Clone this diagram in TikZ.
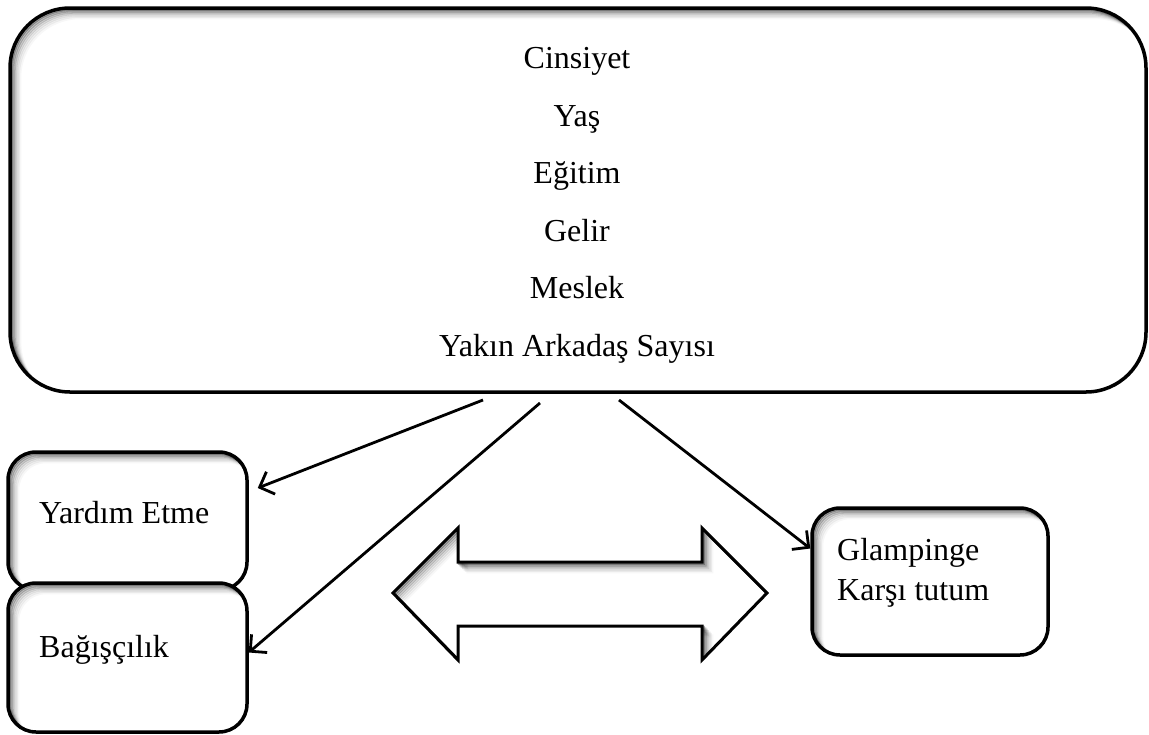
\documentclass[tikz,border=0pt]{standalone}
\usepackage{fontspec}
\setmainfont{Liberation Serif}
\usetikzlibrary{arrows.meta}
\tikzset{
  ishadow/.style={path picture={
    \foreach \i/\o in {1/0.32,2/0.24,3/0.18,4/0.12,5/0.08,6/0.05,7/0.03}{
      \draw[line width=3pt, black, opacity=\o, rounded corners=#1]
        ([shift={({\i*1.4pt},{-\i*1.4pt})}]path picture bounding box.south west) rectangle
        ([shift={({\i*1.4pt},{-\i*1.4pt})}]path picture bounding box.north east);
    }}},
  box/.style={draw, line width=3.5pt, fill=white, rounded corners=#1, inner sep=0pt, ishadow=#1},
  lbl/.style={inner sep=0pt, font=\fontsize{32}{38}\selectfont},
  arr/.style={line width=2.8pt, -{Straight Barb[length=12pt,width=24pt]}},
}
\newcommand{\dblarrow}{(393,593) -- (458,528) -- (458,562) -- (702,562) -- (702,528) -- (767,593) -- (702,660) -- (702,626) -- (458,626) -- (458,660) -- cycle}
\begin{document}
\begin{tikzpicture}[x=1pt,y=-1pt]
\useasboundingbox (0,0) rectangle (1149,734);
\fill[white] (0,0) rectangle (1149,734);

% main box
\node[box=60pt, minimum width=1136pt, minimum height=384pt] (top) at (578,200) {};
\node[lbl, anchor=base] (t1) at (577,68) {Cinsiyet};
\node[lbl, anchor=base] (t2) at (577,126) {Yaş};
\node[lbl, anchor=base] (t3) at (577,183) {Eğitim};
\node[lbl, anchor=base] (t4) at (577,241) {Gelir};
\node[lbl, anchor=base] (t5) at (577,298) {Meslek};
\node[lbl, anchor=base] (t6) at (577,356) {Yakın Arkadaş Sayısı};

% small boxes
\node[box=28pt, minimum width=239pt, minimum height=138pt] (yard) at (127.5,521) {};
\node[box=28pt, minimum width=239pt, minimum height=149pt] (bag) at (127.5,657.5) {};
\node[box=28pt, minimum width=236pt, minimum height=147pt] (glamp) at (930,581.5) {};
\node[lbl, anchor=base west] (yardt) at (39,523) {Yardım Etme};
\node[lbl, anchor=base west] (bagt) at (39,657) {Bağışçılık};
\node[lbl, anchor=base west] (glt1) at (837,560) {Glampinge};
\node[lbl, anchor=base west] (glt2) at (837,600) {Karşı tutum};

% connectors
\coordinate (s1) at (483,400);
\coordinate (s2) at (540,403);
\coordinate (s3) at (619,400);
\draw[arr] (s1) -- ([shift={(9pt,33pt)}]yard.east);
\draw[arr] (s2) -- ([yshift=5pt]bag.east);
\draw[arr] (s3) -- ([yshift=33pt]glamp.west);

% double arrow
\fill[white] \dblarrow;
\begin{scope}
  \clip \dblarrow;
  \foreach \i/\o in {1/0.32,2/0.24,3/0.18,4/0.12,5/0.08,6/0.05,7/0.03}{
    \begin{scope}[shift={({\i*1.4pt},{-\i*1.4pt})}]
      \draw[line width=3pt, opacity=\o] \dblarrow;
    \end{scope}
  }
\end{scope}
\draw[line width=3pt, line join=miter] \dblarrow;
\end{tikzpicture}
\end{document}
